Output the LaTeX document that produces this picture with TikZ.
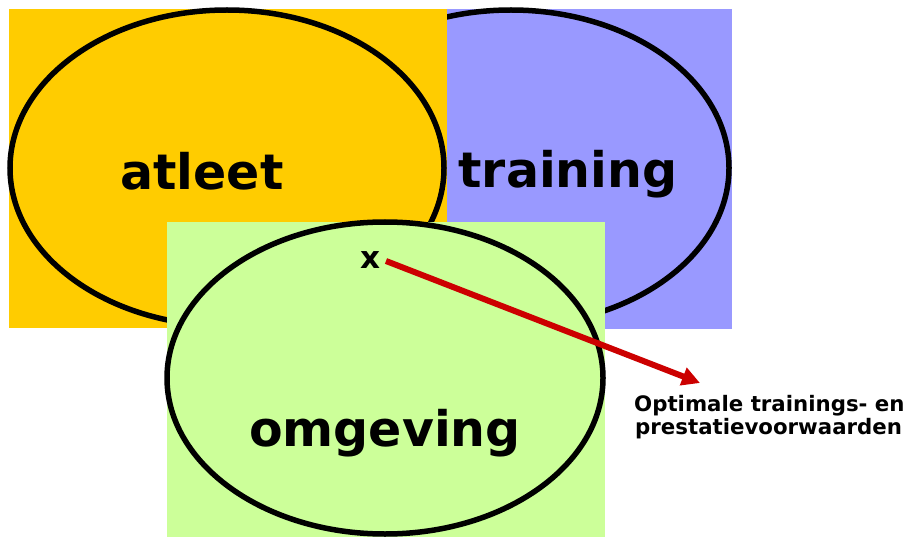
\documentclass[tikz,border=0pt]{standalone}
\usepackage{fontspec}
\setmainfont{DejaVu Sans}
\usepackage[dvipsnames]{xcolor}
\usetikzlibrary{arrows, arrows.meta}
\definecolor{atleetgeel}{HTML}{FFCC00}
\definecolor{trainingblauw}{HTML}{9999FF}
\definecolor{omgevinggroen}{HTML}{CCFF99}
\definecolor{pijlrood}{HTML}{CC0000}
\tikzset{
  rim/.style={line width=5.5pt,black},
  bigword/.style={anchor=base,inner sep=0pt,font=\fontsize{49}{56}\selectfont\bfseries},
  noteword/.style={anchor=base west,inner sep=0pt,font=\fontsize{21.3}{23}\selectfont\bfseries}
}

\begin{document}
\begin{tikzpicture}[x=1pt,y=-1pt]
\useasboundingbox (0,0) rectangle (909,537);
%---------------------------------------------------
\fill[trainingblauw] (447,9) rectangle (732,329);
\draw[rim] (511,168) ellipse (218 and 158);
\fill[atleetgeel] (9,9) rectangle (447,328);
\draw[rim] (227,168) ellipse (217 and 158);
\node[bigword] (atleet) at (202,190) {atleet};
\node[bigword] (training) at (568,188) {training};
%---------------------------------------------------
\fill[omgevinggroen] (167,222) rectangle (605,537);
\draw[rim] (385,378) ellipse (218 and 156);
\node[bigword] (omgeving) at (385,446) {omgeving};
\node[anchor=base,inner sep=0pt,font=\fontsize{31}{36}\selectfont\bfseries] (cross) at (370,268) {x};
%---------------------------------------------------
\coordinate (start) at (386,261);
\coordinate (tip) at (700,383);
\draw[pijlrood,line width=6pt,-{Triangle[length=18pt,width=18pt]}] (start) -- (tip);
\node[noteword] (note1) at (634,411) {Optimale trainings- en};
\node[noteword] (note2) at (635,434) {prestatievoorwaarden};
\end{tikzpicture}
\end{document}
